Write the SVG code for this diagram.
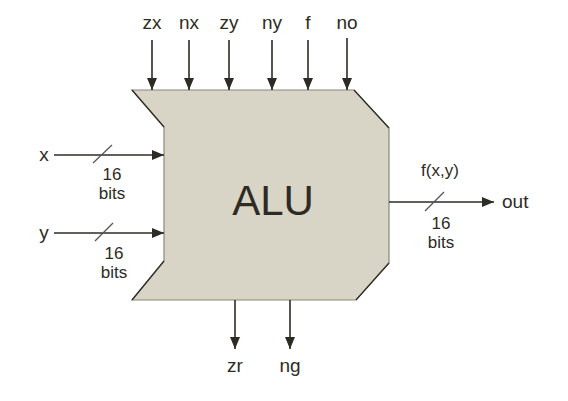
<svg xmlns="http://www.w3.org/2000/svg" width="568" height="401" viewBox="0 0 568 401">
<style>
text{font-family:"Liberation Sans",Arial,sans-serif;fill:#2e2b24}
.lbl{font-size:19px}
.sm{font-size:17px;text-anchor:middle}
.wire{stroke:#2e2b24;stroke-width:1.6;fill:none}
.slash{stroke:#555;stroke-width:1.2}
</style>
<defs>
<marker id="ah" viewBox="0 0 12 10" refX="12" refY="5" markerWidth="12" markerHeight="10" markerUnits="userSpaceOnUse" orient="auto">
<path d="M0,0 L12,5 L0,10 Z" fill="#2e2b24"/>
</marker>
</defs>
<rect width="568" height="401" fill="#fff"/>
<g id="alu">
<polygon points="132,90 354,90 389,128 389,263 356,300 132,300 164,261 164,127" fill="#d8d5c7" stroke="#8a877c" stroke-width="1.2"/>
<path d="M132,90 L164,127 M354,90 L389,128 M389,263 L356,300 M164,261 L132,300" stroke="#2e2b24" stroke-width="1.2" fill="none"/>
<text x="273" y="215" font-size="42" text-anchor="middle">ALU</text>
</g>
<g id="connectors">
<line class="wire" x1="152" y1="40" x2="152" y2="90" marker-end="url(#ah)"/>
<line class="wire" x1="189" y1="40" x2="189" y2="90" marker-end="url(#ah)"/>
<line class="wire" x1="229" y1="40" x2="229" y2="90" marker-end="url(#ah)"/>
<line class="wire" x1="272" y1="40" x2="272" y2="90" marker-end="url(#ah)"/>
<line class="wire" x1="308" y1="40" x2="308" y2="90" marker-end="url(#ah)"/>
<line class="wire" x1="347" y1="38" x2="347" y2="90" marker-end="url(#ah)"/>
<line class="wire" x1="54" y1="155" x2="164" y2="155" marker-end="url(#ah)"/>
<line class="wire" x1="54" y1="233" x2="164" y2="233" marker-end="url(#ah)"/>
<line class="wire" x1="389" y1="202" x2="494" y2="202" marker-end="url(#ah)"/>
<line class="wire" x1="235" y1="300" x2="235" y2="349" marker-end="url(#ah)"/>
<line class="wire" x1="290" y1="300" x2="290" y2="349" marker-end="url(#ah)"/>
<line class="slash" x1="93" y1="163" x2="112" y2="145"/>
<line class="slash" x1="95" y1="241" x2="113" y2="223"/>
<line class="slash" x1="425" y1="211" x2="444" y2="192"/>
</g>
<g id="labels">
<text class="lbl" x="152" y="29" text-anchor="middle">zx</text>
<text class="lbl" x="189" y="29" text-anchor="middle">nx</text>
<text class="lbl" x="229" y="29" text-anchor="middle">zy</text>
<text class="lbl" x="272" y="29" text-anchor="middle">ny</text>
<text class="lbl" x="308" y="29" text-anchor="middle">f</text>
<text class="lbl" x="347" y="29" text-anchor="middle">no</text>
<text class="lbl" x="44" y="161" text-anchor="middle">x</text>
<text class="lbl" x="44" y="239" text-anchor="middle">y</text>
<text class="sm" x="112" y="180">16</text>
<text class="sm" x="112" y="199">bits</text>
<text class="sm" x="114" y="259">16</text>
<text class="sm" x="114" y="278">bits</text>
<text class="sm" x="440" y="176">f(x,y)</text>
<text class="sm" x="441" y="229">16</text>
<text class="sm" x="441" y="248">bits</text>
<text class="lbl" x="502" y="208">out</text>
<text class="lbl" x="235" y="372" text-anchor="middle">zr</text>
<text class="lbl" x="290" y="372" text-anchor="middle">ng</text>
</g>
</svg>
